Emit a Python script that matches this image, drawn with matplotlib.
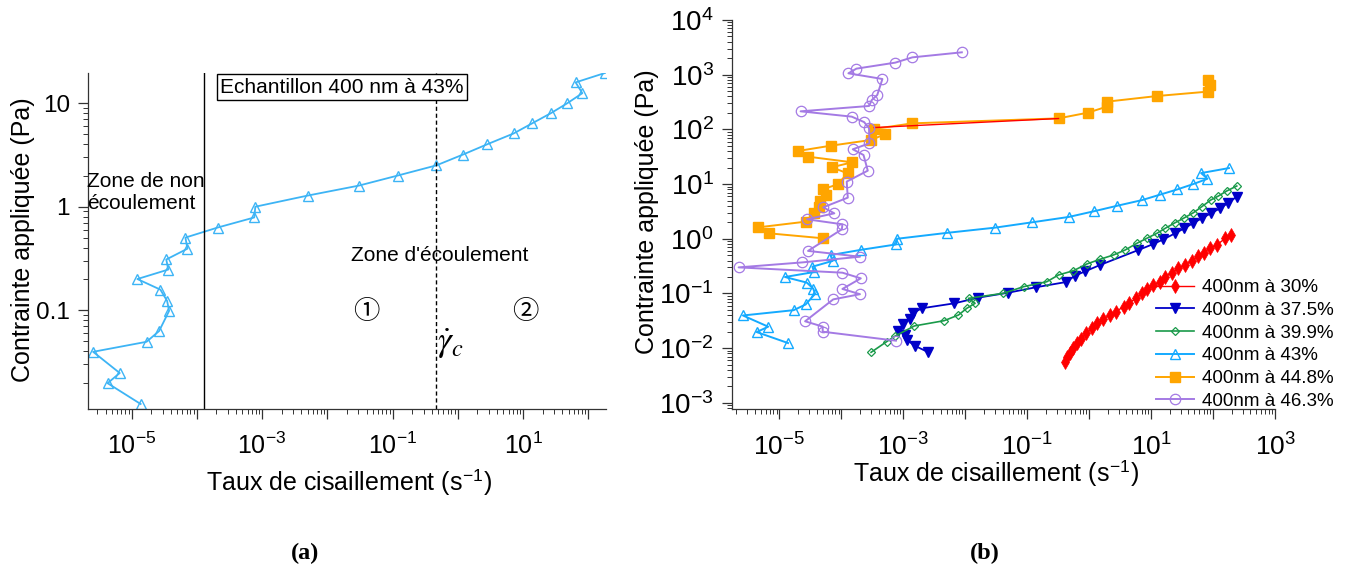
import numpy as np
import matplotlib
matplotlib.use("Agg")
import matplotlib.pyplot as plt
from matplotlib.ticker import LogLocator, FuncFormatter, NullFormatter

plt.rcParams['font.family'] = ['Liberation Sans', 'DejaVu Sans']
plt.rcParams['mathtext.fontset'] = 'stix'
plt.rcParams['axes.unicode_minus'] = False

# --- data (shear rate s^-1, stress Pa) ---
# 400 nm at 43 % (panel a, also used in panel b)
rate_43 = [1.38e-5, 4.3e-6, 6.6e-6, 2.58e-6, 1.70e-5, 2.65e-5, 3.77e-5, 3.51e-5, 2.77e-5, 1.23e-5,
           3.66e-5, 3.41e-5, 7.2e-5, 6.7e-5, 2.09e-4, 7.6e-4, 7.9e-4, 4.98e-3, 0.0306, 0.120,
           0.471, 1.20, 2.85, 7.16, 13.8, 26.6, 47.7, 81.1, 64.0, 180.0]
stress_43 = [0.0124, 0.0197, 0.0247, 0.0396, 0.0495, 0.0629, 0.0985, 0.123, 0.158, 0.200,
             0.247, 0.309, 0.393, 0.503, 0.629, 0.787, 1.0, 1.28, 1.60, 2.00,
             2.51, 3.19, 4.02, 5.10, 6.39, 8.0, 10.0, 12.5, 15.9, 19.6]

rate_30 = [0.409, 0.446, 0.493, 0.558, 0.632, 0.733, 0.894, 1.10, 1.36, 1.70,
           2.13, 2.72, 3.58, 4.47, 5.73, 7.08, 8.73, 10.9, 14.0, 16.8,
           21.6, 27.6, 35.4, 45.3, 58.0, 70.0, 87.5, 115.0, 157.0, 194.0]
stress_30 = [0.00568, 0.0070, 0.00828, 0.00995, 0.0123, 0.0145, 0.0187, 0.0231, 0.0285, 0.0342,
             0.0405, 0.0466, 0.0574, 0.0680, 0.0816, 0.1007, 0.121, 0.143, 0.164, 0.203,
             0.240, 0.288, 0.332, 0.398, 0.485, 0.557, 0.669, 0.771, 1.02, 1.17]

rate_375 = [2.55e-3, 1.55e-3, 1.14e-3, 1.07e-3, 8.35e-4, 9.8e-4, 1.26e-3, 1.41e-3, 1.99e-3, 6.7e-3,
            0.0163, 0.0498, 0.139, 0.425, 0.593, 0.861, 1.50, 6.25, 10.9, 15.8,
            24.4, 34.1, 47.1, 65.8, 91.8, 130.0, 177.0, 241.0]
stress_375 = [0.0084, 0.0110, 0.0141, 0.0174, 0.0209, 0.0273, 0.0342, 0.0434, 0.0536, 0.0661,
              0.0839, 0.1035, 0.130, 0.162, 0.212, 0.254, 0.332, 0.624, 0.804, 0.977,
              1.26, 1.55, 1.92, 2.37, 2.92, 3.61, 4.58, 5.89]

rate_399 = [3.02e-4, 5.41e-4, 7.4e-4, 1.51e-3, 4.56e-3, 7.77e-3, 0.0106, 0.0144, 0.0113, 0.0414,
            0.0871, 0.207, 0.320, 0.558, 0.917, 1.50, 2.47, 3.81, 5.87, 8.51,
            12.4, 16.8, 24.4, 33.3, 48.2, 65.8, 91.8, 122.0, 166.0, 241.0]
stress_399 = [0.0084, 0.0132, 0.0167, 0.0255, 0.0318, 0.0404, 0.0536, 0.0661, 0.0816, 0.1008,
              0.133, 0.164, 0.218, 0.261, 0.346, 0.422, 0.506, 0.624, 0.826, 1.02,
              1.26, 1.55, 1.97, 2.37, 3.00, 3.87, 5.12, 6.06, 7.48, 9.23]

rate_448 = [82.0, 90.0, 82.0, 12.6, 1.92, 1.92, 0.95, 0.32, 1.40e-3, 3.4e-4,
            5.0e-4, 3.0e-4, 6.8e-5, 2.0e-5, 2.9e-5, 1.5e-4, 7.0e-5, 1.26e-4, 8.7e-5, 5.0e-5,
            5.6e-5, 4.5e-5, 4.4e-5, 3.6e-5, 2.7e-5, 4.6e-6, 6.7e-6, 5.1e-5]
stress_448 = [800.0, 650.0, 490.0, 408.0, 321.0, 260.0, 202.0, 159.0, 129.0, 102.0,
              81.0, 64.0, 50.4, 40.3, 31.7, 25.0, 20.3, 15.7, 9.9, 8.0,
              6.3, 5.0, 3.87, 3.0, 2.06, 1.62, 1.26, 1.02]

rate_463 = [8.8e-3, 1.40e-3, 7.4e-4, 1.75e-4, 1.30e-4, 4.6e-4, 3.8e-4, 3.1e-4, 2.8e-4, 2.2e-5,
            1.47e-4, 2.33e-4, 2.8e-4, 2.84e-4, 1.53e-4, 2.28e-4, 2.67e-4, 1.22e-4, 1.27e-4, 5.1e-5,
            7.7e-5, 2.8e-5, 1.04e-4, 1.02e-4, 2.9e-5, 2.0e-4, 2.35e-5, 2.2e-6, 1.04e-4, 2.06e-4,
            1.04e-4, 2.0e-4, 7.4e-5, 2.6e-5, 5.0e-5, 5.0e-5, 7.6e-4]
stress_463 = [2565.0, 2075.0, 1660.0, 1290.0, 1060.0, 834.0, 426.0, 344.0, 268.0, 214.0,
              171.0, 136.0, 105.0, 55.6, 43.3, 34.0, 17.6, 11.1, 5.65, 3.76,
              2.92, 2.27, 1.84, 1.49, 0.60, 0.47, 0.37, 0.30, 0.24, 0.189,
              0.121, 0.097, 0.078, 0.031, 0.0248, 0.0200, 0.0137]

# thin red trace running under the 44.8 % curve
rate_red_trace = [3.4e-4, 0.32]
stress_red_trace = [108.0, 158.0]

# rate limits of the flow zones in panel (a)
rate_no_flow = 1.285e-4
rate_critical = 0.471


def odd_decades(val, pos):
    e = int(round(np.log10(val)))
    return r'$\mathdefault{10^{%d}}$' % e if e % 2 else ''


def all_decades(val, pos):
    e = int(round(np.log10(val)))
    return r'$\mathdefault{10^{%d}}$' % e


def style_axes(ax, x_decades, y_decades):
    for side in ('top', 'right'):
        ax.spines[side].set_visible(False)
    for side in ('left', 'bottom'):
        ax.spines[side].set_color('#333333')
        ax.spines[side].set_linewidth(0.9)
    ax.set_xscale('log')
    ax.set_yscale('log')
    ax.set_xticks([10.0 ** e for e in x_decades])
    ax.set_yticks([10.0 ** e for e in y_decades])
    ax.tick_params(which='both', direction='out', color='#333333', labelsize=18)
    ax.tick_params(which='major', length=7, width=0.9)
    ax.tick_params(which='minor', length=3.6, width=0.7)
    ax.tick_params(axis='x', pad=10)
    for axis in (ax.xaxis, ax.yaxis):
        axis.set_minor_locator(LogLocator(base=10, subs=np.arange(2, 10), numticks=30))
        axis.set_minor_formatter(NullFormatter())


fig = plt.figure(figsize=(13.53, 5.83), dpi=100)

# ---------------- (a) ----------------
ax_a = fig.add_axes([0.0650, 0.2985, 0.3829, 0.5763])
style_axes(ax_a, range(-5, 3), range(-1, 2))
ax_a.plot(rate_43, stress_43, color='#3db4f5', lw=1.3, marker='^', ms=7,
          mfc='none', mec='#3db4f5', mew=1.0)
ax_a.axvline(rate_no_flow, color='black', lw=1.0)
ax_a.axvline(rate_critical, color='black', lw=1.0, ls=(0, (3, 2)))
ax_a.set_xlim(2.15e-6, 187)
ax_a.set_ylim(0.0111, 19.6)
ax_a.xaxis.set_major_formatter(FuncFormatter(odd_decades))
ax_a.yaxis.set_major_formatter(FuncFormatter(lambda v, p: '%g' % v))
ax_a.tick_params(axis='y', pad=6, labelsize=17.5)

ax_a.text(0.49, 0.958, 'Echantillon 400 nm à 43%', transform=ax_a.transAxes,
          ha='center', va='center', fontsize=15,
          bbox=dict(boxstyle='square,pad=0.15', fc='white', ec='black', lw=1.0))
ax_a.text(-0.002, 0.644, 'Zone de non\nécoulement', transform=ax_a.transAxes,
          ha='left', va='center', fontsize=15, linespacing=1.15)
ax_a.text(0.678, 0.4565, "Zone d'écoulement", transform=ax_a.transAxes,
          ha='center', va='center', fontsize=15)
ax_a.text(0.538, 0.290, '①', transform=ax_a.transAxes, ha='center', va='center',
          fontsize=19, family=['Noto Sans CJK JP', 'DejaVu Sans'])
ax_a.text(0.845, 0.290, '②', transform=ax_a.transAxes, ha='center', va='center',
          fontsize=19, family=['Noto Sans CJK JP', 'DejaVu Sans'])
ax_a.text(0.674, 0.195, r'$\dot{\gamma}_c$', transform=ax_a.transAxes,
          ha='left', va='center', fontsize=25)

fig.text(349 / 1353, 1 - 483 / 583, r'Taux de cisaillement (s$^{\mathdefault{-1}}$)',
         ha='center', va='center', fontsize=18)
fig.text(23 / 1353, 1 - 240 / 583, 'Contrainte appliquée (Pa)',
         ha='center', va='center', rotation=90, fontsize=18)
fig.text(305 / 1353, 1 - 553 / 583, '(a)', ha='center', va='center',
         fontsize=17.5, fontweight='bold', family='Liberation Serif')

# ---------------- (b) ----------------
ax_b = fig.add_axes([0.5408, 0.2978, 0.4016, 0.6679])
style_axes(ax_b, range(-5, 4), range(-3, 5))
ax_b.plot(rate_30, stress_30, color='#ff0000', lw=1.0, marker='d', ms=7.5,
          mfc='#ff0000', mec='#ff0000', mew=0.5, label='400nm à 30%')
ax_b.plot(rate_375, stress_375, color='#0000c8', lw=1.3, marker='v', ms=6.5,
          mfc='#0000c8', mec='#0000c8', label='400nm à 37.5%')
ax_b.plot(rate_399, stress_399, color='#1a9a4a', lw=1.2, marker='D', ms=4.5,
          mfc='none', mec='#1a9a4a', mew=0.9, label='400nm à 39.9%')
ax_b.plot(rate_43, stress_43, color='#14aaff', lw=1.4, marker='^', ms=6.5,
          mfc='none', mec='#14aaff', mew=1.0, label='400nm à 43%')
ax_b.plot(rate_448, stress_448, color='#ffa500', lw=1.4, marker='s', ms=6.5,
          mfc='#ffa500', mec='#ffa500', label='400nm à 44.8%')
ax_b.plot(rate_red_trace, stress_red_trace, color='#ff0000', lw=1.0)
ax_b.plot(rate_463, stress_463, color='#a47ae4', lw=1.4, marker='o', ms=7.5,
          mfc='none', mec='#a47ae4', mew=0.9, label='400nm à 46.3%')
ax_b.set_xlim(1.7e-6, 1e3)
ax_b.set_ylim(7.6e-4, 1e4)
ax_b.xaxis.set_major_formatter(FuncFormatter(odd_decades))
ax_b.yaxis.set_major_formatter(FuncFormatter(all_decades))
ax_b.tick_params(axis='y', pad=6, labelsize=20)
ax_b.tick_params(axis='x', labelsize=19)

ax_b.legend(loc='upper left', bbox_to_anchor=(1156 / 1353, 1 - 279 / 583),
            bbox_transform=fig.transFigure, frameon=False, fontsize=13.5,
            handlelength=2.0, handletextpad=0.45, labelspacing=0.3,
            borderpad=0, borderaxespad=0)

fig.text(996 / 1353, 1 - 474 / 583, r'Taux de cisaillement (s$^{\mathdefault{-1}}$)',
         ha='center', va='center', fontsize=18)
fig.text(647 / 1353, 1 - 212 / 583, 'Contrainte appliquée (Pa)',
         ha='center', va='center', rotation=90, fontsize=18)
fig.text(985 / 1353, 1 - 553 / 583, '(b)', ha='center', va='center',
         fontsize=17.5, fontweight='bold', family='Liberation Serif')

fig.savefig('out.png', dpi=100, facecolor='white')
